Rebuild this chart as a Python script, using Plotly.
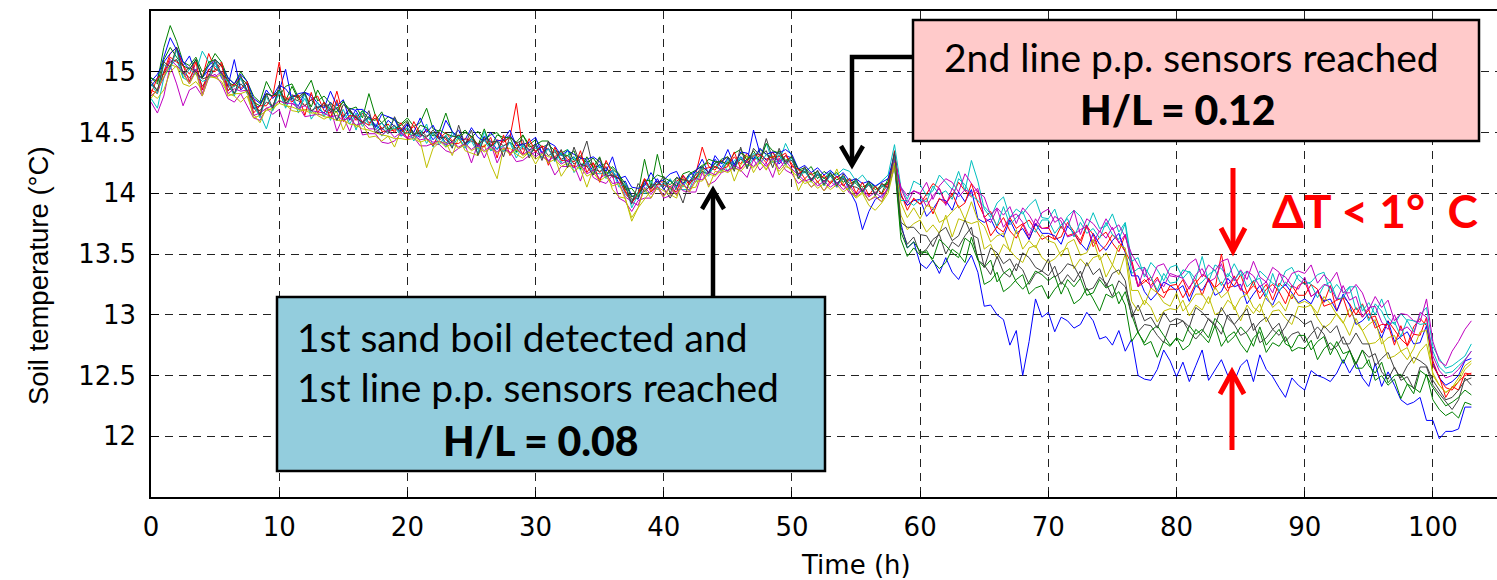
import plotly.graph_objects as go

# ---------------- data (0.5 h sampling, 0 .. 103 h) ----------------
TIME_STEP_H = 0.5

blue_1 = [
    14.88, 14.95, 15.12, 15.28, 15.18, 15.05, 15.13, 14.98, 14.95, 15.02, 15.08, 14.95, 14.88, 15.10, 14.85, 14.90, 14.70, 14.72, 14.85, 14.78,
    14.84, 15.02, 14.76, 14.72, 14.83, 14.79, 14.70, 14.66, 14.75, 14.69, 14.62, 14.70, 14.68, 14.58, 14.63, 14.56, 14.52, 14.60, 14.55, 14.49,
    14.57, 14.49, 14.46, 14.53, 14.44, 14.50, 14.41, 14.47, 14.52, 14.40, 14.45, 14.38, 14.47, 14.43, 14.36, 14.44, 14.48, 14.39, 14.41, 14.35,
    14.41, 14.33, 14.37, 14.28, 14.33, 14.26, 14.30, 14.22, 14.27, 14.18, 14.24, 14.15, 14.19, 14.08, 14.10, 13.98, 13.95, 14.10, 14.04, 14.12,
    14.03, 14.11, 14.05, 14.14, 14.09, 14.19, 14.22, 14.17, 14.28, 14.21, 14.29, 14.22, 14.30, 14.26, 14.52, 14.33, 14.27, 14.34, 14.24, 14.31,
    14.29, 14.15, 14.20, 14.11, 14.16, 14.09, 14.17, 14.08, 14.13, 14.02, 13.92, 13.70, 13.85, 13.95, 13.98, 14.03, 14.22, 13.75, 13.55, 13.60,
    13.42, 13.38, 13.45, 13.34, 13.47, 13.35, 13.29, 13.40, 13.49, 13.35, 13.07, 13.08, 13.00, 12.96, 12.75, 12.87, 12.50, 12.78, 13.13, 12.98,
    13.02, 12.86, 12.98, 12.95, 12.89, 12.92, 13.02, 12.95, 12.80, 12.82, 12.75, 12.87, 12.70, 12.80, 12.50, 12.47, 12.46, 12.55, 12.71, 12.62,
    12.49, 12.61, 12.45, 12.58, 12.71, 12.46, 12.55, 12.63, 12.50, 12.45, 12.58, 12.63, 12.45, 12.67, 12.55, 12.49, 12.40, 12.32, 12.48, 12.42,
    12.38, 12.54, 12.50, 12.48, 12.45, 12.52, 12.63, 12.52, 12.61, 12.48, 12.41, 12.60, 12.41, 12.53, 12.42, 12.30, 12.26, 12.28, 12.32, 12.13,
    12.13, 11.98, 12.04, 12.04, 12.06, 12.24, 12.24,
]

green_1 = [
    14.95, 14.92, 15.20, 15.38, 15.25, 15.08, 15.05, 15.12, 15.00, 15.05, 15.15, 15.08, 14.95, 14.90, 15.00, 14.92, 14.80, 14.75, 14.92, 14.82,
    14.80, 14.88, 14.90, 14.79, 14.84, 14.93, 14.76, 14.80, 14.74, 14.70, 14.75, 14.69, 14.71, 14.62, 14.82, 14.64, 14.58, 14.63, 14.60, 14.57,
    14.62, 14.55, 14.58, 14.70, 14.53, 14.51, 14.66, 14.50, 14.47, 14.52, 14.46, 14.51, 14.44, 14.48, 14.50, 14.43, 14.46, 14.42, 14.48, 14.40,
    14.44, 14.38, 14.40, 14.35, 14.33, 14.36, 14.27, 14.31, 14.25, 14.29, 14.21, 14.25, 14.20, 14.15, 14.08, 13.97, 14.00, 14.28, 14.05, 14.32,
    14.10, 14.07, 14.13, 14.08, 14.16, 14.19, 14.23, 14.25, 14.21, 14.28, 14.30, 14.24, 14.33, 14.30, 14.28, 14.36, 14.32, 14.29, 14.35, 14.27,
    14.30, 14.20, 14.17, 14.22, 14.12, 14.18, 14.14, 14.17, 14.09, 14.12, 14.08, 14.02, 14.10, 14.05, 14.00, 14.12, 14.25, 13.62, 13.48, 13.55,
    13.49, 13.53, 13.44, 13.38, 13.43, 13.54, 13.50, 13.43, 13.64, 13.47, 13.25, 13.28, 13.35, 13.19, 13.23, 13.29, 13.33, 13.17, 13.22, 13.24,
    13.13, 13.21, 13.27, 13.22, 13.09, 13.13, 13.22, 13.13, 13.03, 13.17, 13.14, 13.19, 13.08, 12.78, 12.86, 12.75, 12.78, 12.65, 12.78, 12.74,
    12.81, 12.71, 12.75, 12.88, 12.83, 12.77, 12.91, 12.74, 12.82, 12.86, 12.76, 12.69, 12.81, 12.86, 12.69, 12.77, 12.74, 12.82, 12.70, 12.73,
    12.72, 12.79, 12.63, 12.72, 12.77, 12.71, 12.60, 12.71, 12.56, 12.56, 12.63, 12.46, 12.50, 12.42, 12.47, 12.31, 12.43, 12.40, 12.36, 12.51,
    12.30, 12.22, 12.17, 12.20, 12.15, 12.28, 12.26,
]

red_1 = [
    14.85, 14.82, 15.00, 15.15, 15.20, 15.05, 14.98, 15.10, 14.95, 15.15, 15.02, 15.08, 14.88, 14.90, 14.95, 14.82, 14.78, 14.65, 14.82, 14.80,
    15.08, 14.76, 14.81, 14.79, 14.72, 14.77, 14.80, 14.68, 14.66, 14.84, 14.64, 14.69, 14.60, 14.66, 14.58, 14.62, 14.53, 14.57, 14.50, 14.58,
    14.50, 14.55, 14.47, 14.52, 14.49, 14.45, 14.50, 14.43, 14.48, 14.41, 14.47, 14.40, 14.45, 14.39, 14.44, 14.42, 14.46, 14.74, 14.36, 14.40,
    14.34, 14.39, 14.36, 14.30, 14.35, 14.28, 14.26, 14.30, 14.22, 14.25, 14.17, 14.22, 14.13, 14.15, 14.02, 13.93, 14.00, 14.12, 14.03, 14.10,
    14.09, 14.05, 14.10, 14.13, 14.07, 14.16, 14.38, 14.22, 14.19, 14.27, 14.23, 14.30, 14.24, 14.33, 14.27, 14.31, 14.25, 14.34, 14.26, 14.31,
    14.24, 14.16, 14.20, 14.10, 14.15, 14.13, 14.08, 14.14, 14.12, 14.05, 14.10, 14.02, 14.07, 13.99, 14.08, 14.05, 14.35, 13.98, 13.90, 13.95,
    13.91, 14.00, 14.08, 14.04, 13.92, 13.98, 14.09, 14.02, 13.97, 14.02, 13.80, 13.85, 13.72, 13.68, 13.80, 13.71, 13.75, 13.62, 13.75, 13.71,
    13.72, 13.62, 13.64, 13.76, 13.69, 13.61, 13.74, 13.56, 13.64, 13.68, 13.59, 13.52, 13.66, 13.45, 13.24, 13.29, 13.24, 13.31, 13.18, 13.21,
    13.21, 13.29, 13.15, 13.26, 13.33, 13.30, 13.21, 13.50, 13.22, 13.24, 13.33, 13.18, 13.24, 13.18, 13.25, 13.12, 13.26, 13.21, 13.13, 13.24,
    13.27, 13.15, 13.19, 13.10, 13.24, 13.03, 13.15, 13.09, 13.00, 13.09, 12.97, 12.99, 12.85, 12.95, 12.88, 12.80, 12.75, 12.90, 12.97, 12.91,
    12.62, 12.48, 12.40, 12.38, 12.45, 12.50, 12.52,
]

cyan_1 = [
    14.78, 14.70, 14.95, 15.05, 15.10, 14.95, 14.92, 15.00, 15.17, 15.08, 15.05, 14.98, 14.85, 14.88, 14.95, 14.85, 14.70, 14.65, 14.53, 14.70,
    14.84, 14.71, 14.81, 14.66, 14.82, 14.61, 14.69, 14.75, 14.60, 14.75, 14.60, 14.67, 14.52, 14.68, 14.56, 14.57, 14.47, 14.53, 14.62, 14.47,
    14.50, 14.47, 14.48, 14.57, 14.38, 14.50, 14.38, 14.50, 14.44, 14.39, 14.43, 14.33, 14.51, 14.35, 14.37, 14.39, 14.42, 14.29, 14.39, 14.33,
    14.37, 14.38, 14.25, 14.36, 14.25, 14.36, 14.17, 14.24, 14.24, 14.17, 14.16, 14.17, 14.17, 14.14, 13.99, 13.94, 14.01, 14.00, 14.01, 14.08,
    14.06, 14.12, 14.03, 14.03, 14.03, 14.17, 14.17, 14.16, 14.25, 14.26, 14.18, 14.27, 14.29, 14.21, 14.29, 14.29, 14.41, 14.26, 14.26, 14.41,
    14.30, 14.12, 14.18, 14.10, 14.15, 14.12, 14.18, 14.15, 14.20, 14.18, 14.10, 14.15, 14.08, 14.05, 14.10, 14.15, 14.40, 14.05, 13.95, 14.10,
    14.07, 13.98, 14.02, 14.15, 14.09, 14.03, 14.18, 14.02, 14.27, 14.10, 13.87, 13.80, 13.92, 13.97, 13.80, 13.87, 13.83, 13.90, 13.95, 13.80,
    13.79, 13.87, 13.71, 13.81, 13.86, 13.81, 13.71, 13.84, 13.71, 13.73, 13.83, 13.68, 13.76, 13.44, 13.47, 13.31, 13.43, 13.37, 13.28, 13.39,
    13.41, 13.30, 13.36, 13.29, 13.48, 13.27, 13.41, 13.38, 13.31, 13.42, 13.32, 13.36, 13.24, 13.36, 13.31, 13.26, 13.23, 13.36, 13.39, 13.29,
    13.25, 13.27, 13.33, 13.35, 13.18, 13.25, 13.18, 13.23, 13.23, 13.03, 13.10, 13.00, 13.13, 12.98, 12.92, 13.01, 12.95, 12.86, 13.00, 13.06,
    12.74, 12.64, 12.56, 12.58, 12.62, 12.66, 12.76,
]

magenta_1 = [
    14.75, 14.66, 14.80, 15.05, 14.90, 14.72, 14.85, 14.88, 14.80, 14.95, 14.98, 14.90, 14.78, 14.75, 14.82, 14.72, 14.62, 14.60, 14.70, 14.65,
    14.69, 14.54, 14.74, 14.72, 14.63, 14.64, 14.65, 14.64, 14.70, 14.51, 14.63, 14.51, 14.65, 14.48, 14.49, 14.49, 14.42, 14.41, 14.43, 14.49,
    14.45, 14.46, 14.39, 14.39, 14.41, 14.40, 14.35, 14.33, 14.37, 14.40, 14.25, 14.41, 14.29, 14.41, 14.25, 14.36, 14.34, 14.26, 14.27, 14.31,
    14.34, 14.30, 14.27, 14.15, 14.22, 14.22, 14.23, 14.10, 14.26, 14.13, 14.10, 14.08, 14.15, 13.96, 13.93, 13.85, 13.94, 13.96, 13.96, 14.05,
    13.96, 13.98, 14.09, 14.02, 14.01, 14.01, 14.17, 14.07, 14.10, 14.17, 14.19, 14.21, 14.19, 14.13, 14.28, 14.19, 14.25, 14.13, 14.29, 14.19,
    14.16, 14.08, 14.12, 14.05, 14.09, 14.02, 14.10, 14.05, 14.08, 14.00, 13.98, 14.03, 13.94, 13.97, 13.93, 14.05, 14.25, 14.05, 13.98, 14.02,
    14.00, 14.09, 13.95, 14.06, 14.12, 14.09, 14.01, 14.16, 14.08, 14.01, 13.97, 13.82, 13.88, 13.82, 13.89, 13.75, 13.88, 13.82, 13.73, 13.84,
    13.87, 13.76, 13.80, 13.72, 13.86, 13.66, 13.79, 13.75, 13.68, 13.79, 13.70, 13.74, 13.64, 13.50, 13.41, 13.33, 13.28, 13.40, 13.42, 13.32,
    13.31, 13.34, 13.42, 13.46, 13.31, 13.41, 13.36, 13.44, 13.46, 13.28, 13.37, 13.29, 13.44, 13.31, 13.27, 13.39, 13.35, 13.24, 13.34, 13.36,
    13.34, 13.41, 13.26, 13.33, 13.27, 13.35, 13.18, 13.18, 13.25, 13.18, 13.04, 13.15, 13.06, 13.12, 12.95, 13.01, 13.00, 12.95, 12.94, 13.13,
    12.78, 12.62, 12.58, 12.70, 12.78, 12.88, 12.95,
]

yellow_1 = [
    14.82, 14.78, 14.85, 15.00, 15.05, 14.90, 14.88, 14.92, 14.85, 14.98, 14.95, 14.92, 14.82, 14.80, 14.75, 14.80, 14.65, 14.58, 14.70, 14.68,
    14.77, 14.73, 14.68, 14.67, 14.69, 14.68, 14.64, 14.61, 14.64, 14.67, 14.52, 14.64, 14.54, 14.58, 14.46, 14.47, 14.43, 14.47, 14.38, 14.52,
    14.49, 14.47, 14.43, 14.21, 14.37, 14.42, 14.42, 14.31, 14.46, 14.35, 14.33, 14.31, 14.40, 14.24, 14.12, 14.37, 14.37, 14.32, 14.29, 14.34,
    14.24, 14.33, 14.30, 14.30, 14.14, 14.22, 14.23, 14.20, 14.05, 14.20, 14.11, 14.19, 14.03, 13.97, 13.96, 13.77, 13.88, 13.95, 14.02, 14.05,
    14.02, 13.99, 13.96, 14.12, 14.04, 14.05, 14.20, 14.05, 14.18, 14.17, 14.26, 14.10, 14.23, 14.31, 14.17, 14.26, 14.19, 14.31, 14.15, 14.22,
    14.20, 14.02, 14.12, 14.05, 14.10, 14.02, 14.08, 14.20, 14.06, 14.02, 13.96, 14.00, 13.90, 13.86, 13.92, 14.00, 14.22, 13.82, 13.70, 13.75,
    13.78, 13.68, 13.74, 13.67, 13.82, 13.64, 13.79, 13.77, 13.75, 13.77, 13.54, 13.58, 13.46, 13.58, 13.53, 13.47, 13.43, 13.55, 13.57, 13.47,
    13.43, 13.46, 13.52, 13.55, 13.38, 13.46, 13.40, 13.47, 13.49, 13.31, 13.41, 13.33, 13.50, 13.11, 13.03, 13.12, 13.06, 12.94, 13.03, 13.05,
    13.04, 13.12, 12.99, 13.08, 13.04, 13.15, 13.00, 13.03, 13.12, 13.07, 12.95, 13.08, 13.01, 13.09, 12.94, 13.03, 13.04, 12.97, 12.92, 13.07,
    13.06, 13.08, 12.97, 12.89, 12.93, 13.01, 12.94, 12.83, 12.97, 12.87, 12.76, 12.77, 12.82, 12.64, 12.66, 12.70, 12.73, 12.60, 12.70, 12.76,
    12.52, 12.42, 12.36, 12.40, 12.48, 12.58, 12.62,
]

gray_1 = [
    14.90, 14.85, 15.00, 15.08, 15.10, 15.00, 14.95, 15.02, 14.88, 14.95, 15.02, 15.00, 14.88, 14.82, 14.90, 14.85, 14.70, 14.68, 14.75, 14.72,
    14.85, 14.74, 14.78, 14.76, 14.72, 14.77, 14.70, 14.74, 14.67, 14.70, 14.63, 14.69, 14.62, 14.58, 14.63, 14.55, 14.58, 14.52, 14.56, 14.50,
    14.54, 14.48, 14.52, 14.47, 14.50, 14.44, 14.47, 14.42, 14.48, 14.41, 14.45, 14.40, 14.44, 14.38, 14.43, 14.39, 14.42, 14.37, 14.41, 14.36,
    14.35, 14.38, 14.31, 14.34, 14.28, 14.31, 14.24, 14.28, 14.43, 14.20, 14.18, 14.21, 14.14, 14.12, 14.05, 13.95, 13.96, 14.08, 14.04, 14.10,
    14.04, 13.96, 14.05, 13.92, 14.10, 14.12, 14.18, 14.16, 14.22, 14.19, 14.26, 14.22, 14.28, 14.25, 14.30, 14.27, 14.45, 14.28, 14.31, 14.26,
    14.27, 14.16, 14.18, 14.12, 14.15, 14.10, 14.14, 14.08, 14.12, 14.06, 14.05, 14.02, 14.07, 14.00, 14.05, 14.08, 14.28, 13.72, 13.58, 13.64,
    13.50, 13.54, 13.62, 13.66, 13.50, 13.60, 13.56, 13.65, 13.72, 13.45, 13.41, 13.33, 13.48, 13.35, 13.31, 13.42, 13.37, 13.25, 13.34, 13.36,
    13.32, 13.40, 13.25, 13.33, 13.27, 13.36, 13.20, 13.22, 13.31, 13.26, 13.15, 13.28, 13.23, 13.05, 12.86, 12.92, 12.91, 12.83, 12.77, 12.92,
    12.92, 12.95, 12.86, 12.80, 12.86, 12.97, 12.92, 12.84, 13.00, 12.92, 12.83, 12.86, 12.93, 12.77, 12.81, 12.88, 12.93, 12.78, 12.84, 12.86,
    12.77, 12.84, 12.90, 12.84, 12.71, 12.74, 12.82, 12.71, 12.59, 12.71, 12.65, 12.68, 12.53, 12.47, 12.57, 12.46, 12.49, 12.39, 12.57, 12.57,
    12.42, 12.35, 12.28, 12.22, 12.30, 12.48, 12.42,
]

blue_2 = [
    14.92, 14.98, 15.08, 15.15, 15.20, 15.08, 15.02, 15.10, 14.95, 15.05, 15.10, 15.05, 14.95, 14.90, 14.98, 14.92, 14.78, 14.74, 14.82, 14.80,
    14.89, 14.86, 14.79, 14.82, 14.83, 14.81, 14.74, 14.70, 14.84, 14.72, 14.77, 14.60, 14.69, 14.69, 14.65, 14.54, 14.65, 14.63, 14.61, 14.51,
    14.57, 14.50, 14.62, 14.50, 14.56, 14.45, 14.60, 14.51, 14.45, 14.44, 14.54, 14.46, 14.43, 14.50, 14.43, 14.44, 14.52, 14.39, 14.40, 14.42,
    14.46, 14.33, 14.42, 14.39, 14.31, 14.35, 14.32, 14.29, 14.28, 14.30, 14.26, 14.18, 14.30, 14.12, 14.14, 14.05, 14.04, 14.06, 14.17, 14.09,
    14.11, 14.16, 14.18, 14.07, 14.15, 14.18, 14.28, 14.16, 14.31, 14.24, 14.36, 14.23, 14.34, 14.33, 14.28, 14.37, 14.32, 14.34, 14.33, 14.36,
    14.32, 14.20, 14.23, 14.17, 14.21, 14.15, 14.19, 14.13, 14.17, 14.10, 14.12, 14.08, 14.10, 14.06, 14.09, 14.12, 14.32, 13.98, 13.90, 13.94,
    13.95, 13.81, 13.87, 13.95, 13.94, 13.86, 14.01, 13.93, 14.03, 13.79, 13.76, 13.79, 13.68, 13.64, 13.78, 13.67, 13.71, 13.62, 13.75, 13.67,
    13.67, 13.65, 13.58, 13.73, 13.67, 13.59, 13.53, 13.67, 13.58, 13.53, 13.61, 13.67, 13.51, 13.32, 13.32, 13.19, 13.12, 13.18, 13.27, 13.24,
    13.20, 13.24, 13.11, 13.24, 13.20, 13.29, 13.16, 13.19, 13.30, 13.23, 13.25, 13.09, 13.17, 13.24, 13.13, 13.08, 13.20, 13.25, 13.18, 13.10,
    13.13, 13.09, 13.20, 13.11, 13.13, 13.03, 13.17, 13.08, 12.92, 12.95, 13.01, 12.93, 12.81, 12.95, 12.78, 12.82, 12.86, 12.76, 12.77, 12.91,
    12.60, 12.48, 12.42, 12.45, 12.50, 12.62, 12.64,
]

green_2 = [
    14.95, 14.90, 15.10, 15.20, 15.12, 15.05, 15.02, 15.10, 14.95, 15.08, 15.10, 15.05, 14.92, 14.88, 14.95, 14.90, 14.75, 14.72, 14.82, 14.80,
    14.85, 14.76, 14.88, 14.77, 14.82, 14.71, 14.85, 14.75, 14.69, 14.67, 14.76, 14.67, 14.62, 14.68, 14.61, 14.60, 14.67, 14.53, 14.53, 14.56,
    14.60, 14.47, 14.56, 14.54, 14.47, 14.52, 14.49, 14.47, 14.46, 14.50, 14.47, 14.39, 14.53, 14.38, 14.48, 14.46, 14.46, 14.34, 14.48, 14.38,
    14.40, 14.43, 14.43, 14.28, 14.32, 14.31, 14.35, 14.20, 14.30, 14.21, 14.30, 14.15, 14.22, 14.16, 14.03, 14.04, 13.97, 14.11, 14.10, 14.15,
    14.13, 14.10, 14.06, 14.16, 14.18, 14.12, 14.21, 14.28, 14.26, 14.26, 14.24, 14.33, 14.36, 14.27, 14.35, 14.26, 14.41, 14.35, 14.33, 14.26,
    14.30, 14.19, 14.21, 14.15, 14.18, 14.12, 14.16, 14.11, 14.14, 14.08, 14.10, 14.05, 14.08, 14.03, 14.06, 14.09, 14.28, 13.68, 13.55, 13.60,
    13.52, 13.51, 13.46, 13.62, 13.57, 13.51, 13.47, 13.63, 13.59, 13.45, 13.39, 13.45, 13.27, 13.34, 13.38, 13.27, 13.21, 13.27, 13.36, 13.33,
    13.28, 13.32, 13.17, 13.29, 13.23, 13.30, 13.16, 13.18, 13.29, 13.22, 13.25, 13.09, 13.19, 13.00, 12.85, 12.77, 12.87, 12.91, 12.83, 12.75,
    12.81, 12.78, 12.91, 12.84, 12.88, 12.81, 12.97, 12.91, 12.77, 12.82, 12.90, 12.84, 12.74, 12.90, 12.75, 12.82, 12.88, 12.76, 12.73, 12.83,
    12.83, 12.71, 12.78, 12.82, 12.67, 12.78, 12.68, 12.70, 12.60, 12.71, 12.58, 12.52, 12.61, 12.44, 12.50, 12.51, 12.43, 12.35, 12.54, 12.50,
    12.40, 12.32, 12.25, 12.28, 12.32, 12.38, 12.34,
]

red_2 = [
    14.82, 14.95, 14.98, 15.12, 15.08, 15.05, 14.92, 15.08, 14.85, 15.02, 15.00, 15.06, 14.84, 14.90, 14.86, 14.92, 14.66, 14.72, 14.72, 14.80,
    14.81, 14.79, 14.75, 14.81, 14.64, 14.83, 14.66, 14.75, 14.62, 14.77, 14.59, 14.64, 14.63, 14.59, 14.56, 14.65, 14.51, 14.51, 14.52, 14.54,
    14.45, 14.59, 14.49, 14.45, 14.39, 14.50, 14.44, 14.41, 14.41, 14.45, 14.43, 14.40, 14.38, 14.46, 14.29, 14.48, 14.31, 14.42, 14.32, 14.45,
    14.34, 14.39, 14.23, 14.38, 14.27, 14.27, 14.21, 14.35, 14.17, 14.25, 14.09, 14.27, 14.16, 14.12, 14.01, 13.92, 13.99, 14.12, 14.01, 14.07,
    14.07, 14.04, 14.01, 14.15, 14.08, 14.13, 14.20, 14.21, 14.22, 14.20, 14.22, 14.34, 14.20, 14.27, 14.31, 14.32, 14.28, 14.30, 14.30, 14.33,
    14.22, 14.20, 14.12, 14.17, 14.09, 14.15, 14.08, 14.14, 14.06, 14.12, 14.00, 14.09, 13.98, 14.06, 13.99, 14.08, 14.30, 14.00, 13.86, 13.96,
    13.91, 13.96, 13.83, 13.96, 13.91, 14.00, 13.88, 13.92, 14.08, 13.92, 13.81, 13.65, 13.73, 13.80, 13.69, 13.63, 13.74, 13.78, 13.70, 13.62,
    13.65, 13.62, 13.73, 13.65, 13.67, 13.58, 13.73, 13.66, 13.52, 13.57, 13.66, 13.60, 13.52, 13.42, 13.23, 13.27, 13.31, 13.18, 13.14, 13.24,
    13.25, 13.14, 13.23, 13.29, 13.16, 13.30, 13.22, 13.27, 13.19, 13.32, 13.21, 13.17, 13.28, 13.13, 13.21, 13.25, 13.19, 13.09, 13.24, 13.16,
    13.16, 13.25, 13.21, 13.07, 13.09, 13.12, 13.14, 12.98, 13.06, 12.98, 13.04, 12.89, 12.92, 12.92, 12.75, 12.91, 12.74, 12.84, 12.83, 12.98,
    12.58, 12.49, 12.32, 12.41, 12.38, 12.52, 12.51,
]

cyan_2 = [
    14.90, 14.82, 15.06, 15.02, 15.18, 14.95, 15.02, 14.98, 14.92, 14.94, 15.08, 14.96, 14.92, 14.80, 14.95, 14.82, 14.74, 14.62, 14.80, 14.68,
    14.84, 14.70, 14.81, 14.69, 14.78, 14.66, 14.75, 14.63, 14.72, 14.60, 14.69, 14.57, 14.66, 14.55, 14.62, 14.52, 14.58, 14.50, 14.55, 14.47,
    14.54, 14.43, 14.52, 14.41, 14.50, 14.40, 14.48, 14.38, 14.47, 14.37, 14.45, 14.36, 14.44, 14.35, 14.43, 14.34, 14.42, 14.33, 14.40, 14.31,
    14.39, 14.29, 14.37, 14.26, 14.33, 14.23, 14.30, 14.19, 14.26, 14.15, 14.23, 14.12, 14.19, 14.05, 14.08, 13.88, 13.99, 14.02, 14.10, 14.03,
    14.09, 14.03, 14.10, 14.05, 14.14, 14.09, 14.21, 14.14, 14.25, 14.18, 14.28, 14.20, 14.30, 14.22, 14.33, 14.24, 14.32, 14.25, 14.32, 14.23,
    14.29, 14.12, 14.20, 14.09, 14.17, 14.06, 14.15, 14.05, 14.14, 14.03, 14.10, 14.00, 14.08, 13.98, 14.07, 14.02, 14.31, 13.94, 13.94, 13.90,
    13.95, 13.93, 14.06, 13.99, 14.02, 13.95, 14.12, 14.07, 13.98, 13.94, 13.89, 13.83, 13.73, 13.89, 13.74, 13.80, 13.85, 13.72, 13.68, 13.78,
    13.78, 13.67, 13.74, 13.79, 13.64, 13.76, 13.67, 13.71, 13.63, 13.76, 13.66, 13.62, 13.75, 13.34, 13.38, 13.39, 13.31, 13.20, 13.34, 13.26,
    13.27, 13.37, 13.35, 13.23, 13.27, 13.33, 13.37, 13.24, 13.34, 13.28, 13.36, 13.23, 13.28, 13.30, 13.15, 13.34, 13.19, 13.27, 13.22, 13.33,
    13.28, 13.25, 13.14, 13.24, 13.27, 13.13, 13.14, 13.23, 13.04, 13.08, 12.95, 13.09, 13.03, 12.92, 12.94, 12.82, 12.96, 12.95, 12.92, 12.93,
    12.70, 12.57, 12.52, 12.53, 12.58, 12.63, 12.70,
]

magenta_2 = [
    14.80, 14.85, 14.95, 15.10, 15.05, 15.00, 14.90, 15.02, 14.82, 14.98, 14.96, 15.00, 14.82, 14.86, 14.84, 14.85, 14.64, 14.66, 14.70, 14.72,
    14.76, 14.74, 14.74, 14.70, 14.72, 14.68, 14.67, 14.66, 14.63, 14.64, 14.60, 14.62, 14.56, 14.58, 14.53, 14.53, 14.48, 14.52, 14.46, 14.50,
    14.46, 14.48, 14.44, 14.45, 14.42, 14.43, 14.40, 14.42, 14.38, 14.41, 14.36, 14.40, 14.35, 14.39, 14.34, 14.38, 14.33, 14.37, 14.32, 14.35,
    14.30, 14.34, 14.27, 14.30, 14.24, 14.27, 14.21, 14.24, 14.16, 14.19, 14.12, 14.16, 14.08, 14.09, 13.97, 13.93, 13.90, 14.05, 13.99, 14.06,
    13.98, 14.06, 13.99, 14.08, 14.02, 14.12, 14.11, 14.18, 14.15, 14.21, 14.18, 14.23, 14.20, 14.26, 14.22, 14.28, 14.22, 14.29, 14.20, 14.27,
    14.20, 14.15, 14.10, 14.12, 14.06, 14.10, 14.05, 14.09, 14.03, 14.07, 13.99, 14.04, 13.97, 14.01, 13.96, 14.05, 14.27, 14.04, 13.92, 14.02,
    13.99, 13.89, 13.98, 14.04, 13.90, 14.04, 13.97, 14.03, 14.00, 14.04, 13.80, 13.76, 13.87, 13.72, 13.80, 13.83, 13.76, 13.65, 13.79, 13.71,
    13.71, 13.81, 13.77, 13.64, 13.66, 13.70, 13.73, 13.59, 13.69, 13.63, 13.72, 13.59, 13.66, 13.42, 13.23, 13.39, 13.22, 13.29, 13.23, 13.34,
    13.32, 13.30, 13.21, 13.33, 13.38, 13.27, 13.30, 13.42, 13.25, 13.31, 13.20, 13.36, 13.32, 13.23, 13.27, 13.18, 13.34, 13.31, 13.24, 13.21,
    13.31, 13.15, 13.19, 13.25, 13.23, 13.12, 13.24, 13.12, 13.15, 12.98, 13.06, 13.07, 12.94, 12.88, 13.00, 12.87, 12.90, 12.84, 13.02, 12.98,
    12.66, 12.54, 12.48, 12.50, 12.55, 12.62, 12.70,
]

yellow_2 = [
    14.78, 14.86, 14.96, 15.06, 15.04, 14.98, 14.90, 15.00, 14.80, 14.96, 14.95, 14.98, 14.80, 14.82, 14.82, 14.84, 14.62, 14.64, 14.68, 14.70,
    14.74, 14.72, 14.71, 14.69, 14.68, 14.66, 14.66, 14.63, 14.62, 14.60, 14.60, 14.57, 14.56, 14.53, 14.52, 14.50, 14.48, 14.47, 14.45, 14.45,
    14.44, 14.45, 14.42, 14.44, 14.40, 14.43, 14.38, 14.41, 14.37, 14.40, 14.35, 14.38, 14.34, 14.37, 14.33, 14.37, 14.32, 14.36, 14.31, 14.34,
    14.28, 14.32, 14.25, 14.28, 14.22, 14.25, 14.18, 14.22, 14.14, 14.17, 14.10, 14.14, 14.06, 14.08, 13.95, 13.80, 13.88, 14.04, 13.96, 14.05,
    13.97, 14.05, 13.98, 14.07, 14.01, 14.10, 14.10, 14.16, 14.14, 14.19, 14.17, 14.21, 14.18, 14.24, 14.21, 14.26, 14.20, 14.27, 14.18, 14.24,
    14.18, 14.13, 14.08, 14.10, 14.04, 14.08, 14.03, 14.07, 14.01, 14.05, 13.97, 14.01, 13.94, 13.98, 13.93, 14.03, 14.25, 13.92, 13.80, 13.88,
    13.79, 13.90, 13.88, 13.76, 13.79, 13.85, 13.90, 13.78, 13.93, 13.78, 13.73, 13.60, 13.65, 13.67, 13.52, 13.70, 13.54, 13.61, 13.55, 13.66,
    13.61, 13.59, 13.48, 13.59, 13.62, 13.49, 13.51, 13.62, 13.45, 13.51, 13.41, 13.57, 13.55, 13.20, 13.20, 13.08, 13.22, 13.18, 13.10, 13.07,
    13.18, 13.03, 13.09, 13.17, 13.17, 13.09, 13.23, 13.14, 13.19, 13.04, 13.14, 13.17, 13.06, 13.02, 13.16, 13.06, 13.11, 13.03, 13.17, 13.09,
    13.11, 13.08, 13.01, 13.15, 13.09, 13.00, 12.93, 13.05, 12.94, 12.87, 12.92, 12.96, 12.76, 12.81, 12.83, 12.70, 12.63, 12.72, 12.86, 12.87,
    12.50, 12.42, 12.36, 12.40, 12.45, 12.55, 12.60,
]

gray_2 = [
    14.92, 14.84, 15.08, 15.04, 15.20, 14.98, 15.04, 15.00, 14.94, 14.96, 15.10, 14.98, 14.94, 14.82, 14.97, 14.84, 14.76, 14.64, 14.82, 14.70,
    14.89, 14.74, 14.80, 14.79, 14.83, 14.68, 14.71, 14.72, 14.73, 14.60, 14.73, 14.68, 14.62, 14.58, 14.68, 14.50, 14.54, 14.49, 14.63, 14.52,
    14.59, 14.49, 14.49, 14.46, 14.52, 14.46, 14.46, 14.37, 14.56, 14.40, 14.52, 14.31, 14.46, 14.42, 14.43, 14.30, 14.47, 14.41, 14.44, 14.29,
    14.40, 14.27, 14.43, 14.27, 14.36, 14.21, 14.38, 14.24, 14.22, 14.15, 14.29, 14.14, 14.15, 14.12, 14.06, 13.91, 14.08, 14.01, 14.07, 14.07,
    14.14, 14.00, 14.13, 14.11, 14.10, 14.15, 14.22, 14.17, 14.25, 14.26, 14.30, 14.18, 14.38, 14.20, 14.37, 14.31, 14.35, 14.21, 14.37, 14.24,
    14.31, 14.12, 14.22, 14.10, 14.19, 14.07, 14.17, 14.06, 14.16, 14.04, 14.12, 14.01, 14.10, 13.98, 14.08, 14.04, 14.34, 13.76, 13.72, 13.72,
    13.66, 13.65, 13.56, 13.68, 13.72, 13.61, 13.65, 13.78, 13.66, 13.63, 13.39, 13.55, 13.51, 13.42, 13.46, 13.36, 13.51, 13.47, 13.39, 13.36,
    13.46, 13.31, 13.35, 13.42, 13.40, 13.30, 13.43, 13.33, 13.38, 13.23, 13.34, 13.37, 13.28, 12.98, 13.08, 12.95, 12.98, 12.89, 13.02, 12.94,
    12.97, 12.95, 12.90, 13.06, 13.02, 12.96, 12.91, 13.06, 12.97, 12.92, 12.99, 13.05, 12.87, 12.94, 12.98, 12.88, 12.83, 12.90, 13.00, 12.97,
    12.92, 12.95, 12.80, 12.91, 12.85, 12.91, 12.76, 12.76, 12.85, 12.76, 12.76, 12.58, 12.64, 12.69, 12.56, 12.48, 12.58, 12.65, 12.62, 12.58,
    12.46, 12.38, 12.30, 12.32, 12.38, 12.46, 12.48,
]

SERIES = [blue_1, green_1, red_1, cyan_1, magenta_1, yellow_1, gray_1,
          blue_2, green_2, red_2, cyan_2, magenta_2, yellow_2, gray_2]

X_TICKS = [0, 10, 20, 30, 40, 50, 60, 70, 80, 90, 100]
Y_TICKS = [12, 12.5, 13, 13.5, 14, 14.5, 15]
Y_TICK_LABELS = ["12", "12.5", "13", "13.5", "14", "14.5", "15"]

# ---------------- styling ----------------
COLORS = ["#0000ff", "#008000", "#ff0000", "#00bfbf", "#bf00bf", "#bfbf00", "#404040"] * 2

W, H = 1497, 580
ML, MR, MT, MB = 151, 0, 11, 83
X_RANGE = [0, 105]
Y_RANGE = [11.5, 15.5]
PW, PH = W - ML - MR, H - MT - MB


def X(px):  # page pixel -> x data (for annotation placement)
    return X_RANGE[0] + (px - ML) / PW * (X_RANGE[1] - X_RANGE[0])


def Y(py):  # page pixel -> y data
    return Y_RANGE[1] - (py - MT) / PH * (Y_RANGE[1] - Y_RANGE[0])


fig = go.Figure()
for vals, col in zip(SERIES, COLORS):
    t = [i * TIME_STEP_H for i in range(len(vals))]
    fig.add_trace(go.Scatter(x=t, y=vals, mode="lines",
                             line=dict(color=col, width=1), showlegend=False,
                             hoverinfo="skip"))

TICK_FONT = dict(family="DejaVu Sans, sans-serif", size=26, color="#000")
fig.update_layout(
    width=W, height=H,
    margin=dict(l=ML, r=MR, t=MT, b=MB, pad=0),
    paper_bgcolor="white", plot_bgcolor="white",
    showlegend=False,
)
fig.update_xaxes(range=X_RANGE, tickvals=X_TICKS, showgrid=True, gridcolor="#222",
                 griddash="8px,6px", gridwidth=1, showline=True, linecolor="#000",
                 linewidth=1.5, mirror=True, ticks="inside", ticklen=6, tickcolor="#000",
                 tickfont=TICK_FONT, zeroline=False, ticklabelstandoff=6)
fig.update_yaxes(range=Y_RANGE, tickvals=Y_TICKS, ticktext=Y_TICK_LABELS, showgrid=True,
                 gridcolor="#222", griddash="8px,6px", gridwidth=1, showline=True,
                 linecolor="#000", linewidth=1.5, mirror=False, ticks="inside", ticklen=8,
                 tickcolor="#000", tickfont=TICK_FONT, zeroline=False, ticklabelstandoff=8)

shapes = []
# pink box + arrow
shapes.append(dict(type="rect", xref="x", yref="y", x0=X(913), x1=X(1479), y0=Y(20), y1=Y(141),
                   fillcolor="#ffcaca", line=dict(color="#000", width=2.5), layer="above"))
shapes.append(dict(type="path", xref="x", yref="y", layer="above",
                   path=f"M {X(913)},{Y(57)} L {X(852)},{Y(57)} L {X(852)},{Y(164)}",
                   line=dict(color="#000", width=4.5)))
shapes.append(dict(type="path", xref="x", yref="y", layer="above",
                   path=f"M {X(841)},{Y(146)} L {X(852)},{Y(165)} L {X(863)},{Y(146)}",
                   line=dict(color="#000", width=4.5)))
# blue box + arrow
shapes.append(dict(type="rect", xref="x", yref="y", x0=X(277), x1=X(825), y0=Y(297), y1=Y(471),
                   fillcolor="#93cddd", line=dict(color="#000", width=2.5), layer="above"))
shapes.append(dict(type="line", xref="x", yref="y", layer="above",
                   x0=X(713), x1=X(713), y0=Y(296), y1=Y(191), line=dict(color="#000", width=4.5)))
shapes.append(dict(type="path", xref="x", yref="y", layer="above",
                   path=f"M {X(702)},{Y(209)} L {X(713)},{Y(190)} L {X(724)},{Y(209)}",
                   line=dict(color="#000", width=4.5)))
# red arrows
shapes.append(dict(type="line", xref="x", yref="y", layer="above",
                   x0=X(1233), x1=X(1233), y0=Y(168), y1=Y(248), line=dict(color="#ff0000", width=5)))
shapes.append(dict(type="path", xref="x", yref="y", layer="above",
                   path=f"M {X(1221)},{Y(228)} L {X(1233)},{Y(251)} L {X(1245)},{Y(228)}",
                   line=dict(color="#ff0000", width=5)))
shapes.append(dict(type="line", xref="x", yref="y", layer="above",
                   x0=X(1232), x1=X(1232), y0=Y(450), y1=Y(376), line=dict(color="#ff0000", width=5)))
shapes.append(dict(type="path", xref="x", yref="y", layer="above",
                   path=f"M {X(1220)},{Y(394)} L {X(1232)},{Y(372)} L {X(1244)},{Y(394)}",
                   line=dict(color="#ff0000", width=5)))
fig.update_layout(shapes=shapes)

BOX_FONT = dict(family="Lato, Open Sans, sans-serif", size=39, color="#000")
HL_FONT = dict(family="Lato, Open Sans, sans-serif", size=41, color="#000", weight=900)
ann = [
    dict(x=X(1191), y=Y(57), text="2nd line p.p. sensors reached", font=BOX_FONT,
         xanchor="center", yanchor="middle"),
    dict(x=X(1178), y=Y(109), text="H/L = 0.12", font=HL_FONT, xanchor="center", yanchor="middle"),
    dict(x=X(295), y=Y(337), text="1st sand boil detected and", font=BOX_FONT,
         xanchor="left", yanchor="middle"),
    dict(x=X(295), y=Y(387), text="1st line p.p. sensors reached", font=BOX_FONT,
         xanchor="left", yanchor="middle"),
    dict(x=X(541), y=Y(440), text="H/L = 0.08", font=HL_FONT, xanchor="center", yanchor="middle"),
    dict(x=X(1270), y=Y(210), text="ΔT < 1°\u00a0\u00a0C",
         font=dict(family="Lato, Open Sans, sans-serif", size=46, color="#ff0000", weight=700),
         xanchor="left", yanchor="middle"),
    # axis titles
    dict(xref="paper", yref="paper", x=(856 - ML) / PW, y=(H - 565 - MB) / PH,
         text="Time (h)", font=dict(family="DejaVu Sans, sans-serif", size=26, color="#000"),
         xanchor="center", yanchor="middle"),
    dict(xref="paper", yref="paper", x=(38 - ML) / PW, y=(H - 276 - MB) / PH,
         text="Soil temperature (°C)", textangle=-90,
         font=dict(family="Liberation Sans, Arial, sans-serif", size=27.5, color="#000"),
         xanchor="center", yanchor="middle"),
]
for a in ann:
    a.setdefault("xref", "x")
    a.setdefault("yref", "y")
    a["showarrow"] = False
fig.update_layout(annotations=ann)

fig.write_html("out.html")
